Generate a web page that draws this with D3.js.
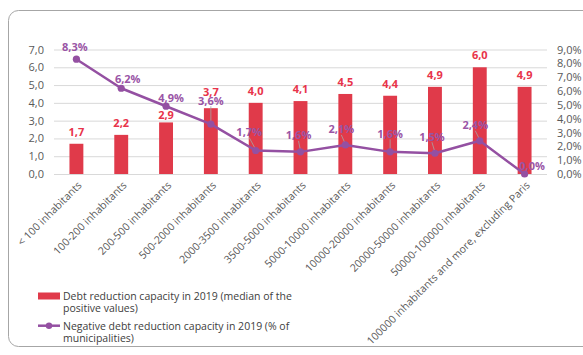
<!DOCTYPE html>
<html><head><meta charset="utf-8">
<script src="https://cdn.jsdelivr.net/npm/d3@7"></script>
<style>
body{margin:0;background:#fff;}
svg{display:block;font-family:"Open Sans",sans-serif;}
</style></head>
<body><svg id="c" width="583" height="355"></svg>
<script>
const categories = ["< 100 inhabitants","100-200 inhabitants","200-500 inhabitants","500-2000 inhabitants","2000-3500 inhabitants","3500-5000 inhabitants","5000-10000 inhabitants","10000-20000 inhabitants","20000-50000 inhabitants","50000-100000 inhabitants","100000 inhabitants and more, excluding Paris"];
const debtCapacity = [1.7,2.2,2.9,3.7,4.0,4.1,4.5,4.4,4.9,6.0,4.9];
const negativeShare = [8.3,6.2,4.9,3.6,1.7,1.6,2.1,1.6,1.5,2.4,0.0];
const leftTicks = [0,1,2,3,4,5,6,7];
const rightTicks = [0,1,2,3,4,5,6,7,8,9];
const seriesNames = ["Debt reduction capacity in 2019 (median of the|positive values)","Negative debt reduction capacity in 2019 (% of|municipalities)"];
// label nudges (layout only), pixels relative to point
const pctLabelDx = [-1.5,6.5,5,0,-6.5,-2,-4,0,-3,-4.5,7.5];
const pctLabelDy = [-13,-10,-8.5,-24,-19,-17,-16,-18.5,-17,-16,-9];
const pctLeader = [false,false,false,true,true,true,true,true,true,true,false];
const barLabelDy = [-12,-12,-8,-16.5,-12.5,-12.5,-12.5,-12.5,-12.5,-12.5,-12.5];

const fmt = v => v.toFixed(1).replace(".", ",");
const RED = "#e03a4a", PURPLE = "#9450a2", GRAY = "#595959";

const svg = d3.select("#c");
svg.append("rect").attr("x",8.5).attr("y",10.5).attr("width",640).attr("height",336)
  .attr("rx",10).attr("fill","none").attr("stroke","#a6a6a6").attr("stroke-width",1);

const L = 54, R = 547, T = 49.5, B = 174;
const x = d3.scaleBand().domain(categories).range([L,R]).paddingInner(0.69).paddingOuter(0.345);
const yL = d3.scaleLinear().domain([0,7]).range([B,T]);
const yR = d3.scaleLinear().domain([0,9]).range([B,T]);
const cx = c => x(c) + x.bandwidth()/2;

// gridlines + left axis
const gl = svg.append("g").attr("transform",`translate(${L},0)`)
  .call(d3.axisLeft(yL).tickValues(leftTicks).tickSize(-(R-L)).tickPadding(10).tickFormat(fmt));
gl.select(".domain").remove();
gl.selectAll(".tick line").attr("stroke","#d9d9d9").attr("stroke-width",1);
gl.selectAll(".tick text").attr("fill",GRAY).style("font-size","11px").style("font-family","Open Sans");

// right axis
const gr = svg.append("g").attr("transform",`translate(${R},0)`)
  .call(d3.axisRight(yR).tickValues(rightTicks).tickSize(0).tickPadding(10).tickFormat(d=>fmt(d)+"%"));
gr.select(".domain").remove();
gr.selectAll(".tick text").attr("fill",GRAY).style("font-size","11px").style("font-family","Open Sans");

// bottom axis labels
const gb = svg.append("g").attr("transform",`translate(0,${B})`)
  .call(d3.axisBottom(x).tickSize(0).tickPadding(0));
gb.select(".domain").remove();
gb.selectAll(".tick text").attr("fill",GRAY).style("font-size","10.6px").style("font-family","Open Sans")
  .attr("text-anchor","end").attr("dy",0).attr("y",0)
  .attr("transform","translate(6,12) rotate(-45)");

// bars
svg.append("g").selectAll("rect").data(debtCapacity).join("rect")
  .attr("x",(d,i)=>x(categories[i])).attr("width",x.bandwidth())
  .attr("y",d=>yL(d)).attr("height",d=>B-yL(d)).attr("fill",RED);

svg.append("g").selectAll("text").data(debtCapacity).join("text")
  .attr("x",(d,i)=>cx(categories[i])).attr("y",(d,i)=>yL(d)+barLabelDy[i])
  .attr("text-anchor","middle").attr("dominant-baseline","central")
  .attr("fill","#e8334a").style("font-weight","bold").style("font-size","11px")
  .text(d=>fmt(d));

// line
const line = d3.line().x((d,i)=>cx(categories[i])).y(d=>yR(d));
svg.append("path").datum(negativeShare).attr("d",line).attr("fill","none")
  .attr("stroke",PURPLE).attr("stroke-width",2.5).attr("stroke-linejoin","round");

// leaders
const pts = negativeShare.map((v,i)=>({v,i})).filter(p=>pctLeader[p.i]);
svg.append("g").selectAll("line").data(pts).join("line")
  .attr("x1",p=>cx(categories[p.i])+pctLabelDx[p.i]).attr("y1",p=>yR(p.v)+pctLabelDy[p.i]+6)
  .attr("x2",p=>cx(categories[p.i])).attr("y2",p=>yR(p.v)-1)
  .attr("stroke","#a6a6a6").attr("stroke-width",0.8);

svg.append("g").selectAll("circle").data(negativeShare).join("circle")
  .attr("cx",(d,i)=>cx(categories[i])).attr("cy",d=>yR(d)).attr("r",3.6).attr("fill",PURPLE);

svg.append("g").selectAll("text").data(negativeShare).join("text")
  .attr("x",(d,i)=>cx(categories[i])+pctLabelDx[i]).attr("y",(d,i)=>yR(d)+pctLabelDy[i])
  .attr("text-anchor","middle").attr("dominant-baseline","central")
  .attr("fill","#9a55a6").style("font-weight","bold").style("font-size","11px")
  .text(d=>fmt(d)+"%");

// legend
const lg = svg.append("g");
lg.append("rect").attr("x",38).attr("y",292.5).attr("width",22).attr("height",7).attr("fill",RED);
lg.append("line").attr("x1",38).attr("x2",60).attr("y1",325.7).attr("y2",325.7).attr("stroke",PURPLE).attr("stroke-width",2.5);
lg.append("circle").attr("cx",49).attr("cy",325.7).attr("r",3.2).attr("fill",PURPLE);
[[296,seriesNames[0]],[325.7,seriesNames[1]]].forEach(([yy,s])=>{
  s.split("|").forEach((p,k)=>lg.append("text").attr("x",63).attr("y",yy+k*11.8)
    .attr("fill","#404040").style("font-size","10.5px").attr("dominant-baseline","central").text(p));
});
</script></body></html>
